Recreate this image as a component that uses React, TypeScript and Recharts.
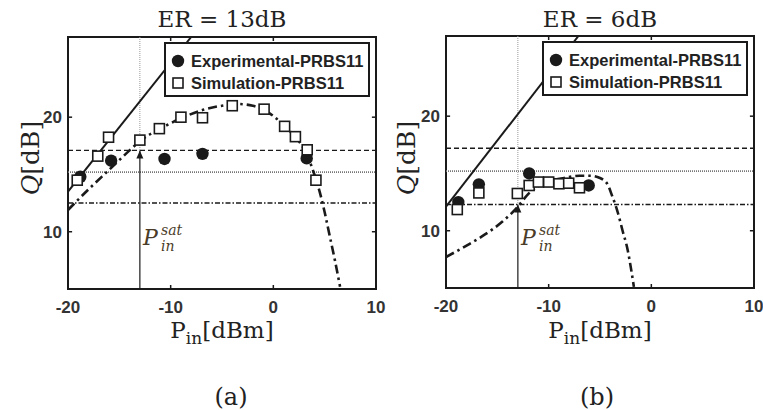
import { ComposedChart, Legend, Line, ReferenceArea, ReferenceDot, ReferenceLine, Scatter, XAxis, YAxis } from "recharts";

// axes
const xTicks = [-20, -10, 0, 10];
const yTicks = [10, 20];
const xDomain = [-20, 10];
const yDomain = [5, 27];
const pSat = -13;

// (a) ER = 13dB
const simXA = [-19.1, -17.1, -16.05, -13.0, -11.1, -9.0, -6.9, -4.0, -0.9, 1.1, 2.15, 3.3, 4.15];
const simQA = [14.5, 16.6, 18.25, 18.0, 19.0, 20.0, 19.95, 21.0, 20.7, 19.2, 18.3, 17.15, 14.5];
const expXA = [-18.8, -15.8, -10.6, -6.9, 3.25];
const expQA = [14.8, 16.2, 16.35, 16.8, 16.4];
const fitXA = [-20, -18, -16, -14, -13, -11, -9, -7, -5, -3.5, -2, -1, 0, 1, 2, 3, 4, 4.6, 5, 5.5, 6, 6.5];
const fitQA = [11.9, 13.7, 15.4, 17.1, 17.9, 19.0, 19.9, 20.6, 21.0, 21.15, 21.0, 20.65, 20.1, 19.3, 18.4, 17.2, 15.0, 13.2, 11.7, 9.6, 7.5, 5.2];
const slopeXA = [-20, -8];
const slopeQA = [13.5, 27];
const levelsA = [17.1, 15.2, 12.5];

// (b) ER = 6dB
const simXB = [-18.9, -16.8, -13.05, -11.9, -11.0, -10.0, -9.0, -8.05, -7.0];
const simQB = [11.85, 13.3, 13.25, 13.95, 14.25, 14.25, 14.1, 14.15, 13.75];
const expXB = [-18.8, -16.8, -11.9, -6.1];
const expQB = [12.5, 14.05, 15.0, 13.95];
const fitXB = [-20, -18, -16.5, -14.5, -13, -12, -11, -10, -8.5, -7, -6, -5, -4.3, -3.8, -3.3, -2.8, -2.3, -2.0, -1.7];
const fitQB = [7.7, 8.7, 9.5, 10.8, 12.1, 13.2, 13.9, 14.3, 14.6, 14.8, 14.8, 14.6, 14.1, 13.0, 11.7, 10.0, 8.3, 6.8, 5.1];
const slopeXB = [-20, -7.1];
const slopeQB = [12.1, 27];
const levelsB = [17.2, 15.2, 12.3];

const zip = (xs: number[], qs: number[]) => xs.map((x, i) => ({ x, q: qs[i] }));

const ink = "#1a1a1a";
const tickFont = { fill: "#333", fontSize: 17, fontWeight: "bold", fontFamily: "'Liberation Sans', Arial, sans-serif" };

const Dot = (p: any) => <circle cx={p.cx} cy={p.cy} r={6.2} fill={ink} />;
const Box = (p: any) => (
	<rect x={p.cx - 5} y={p.cy - 5} width={10} height={10} fill="#fff" stroke={ink} strokeWidth={1.6} />
);
const Arrow = (p: any) => (
	<polygon points={`${p.cx},${p.cy} ${p.cx - 3.5},${p.cy + 8} ${p.cx + 3.5},${p.cy + 8}`} fill={ink} />
);

const LegendBox = () => (
	<div
		style={{
			width: 206,
			height: 55,
			boxSizing: "border-box",
			border: `2px solid ${ink}`,
			background: "#fff",
			font: "bold 16.5px 'Liberation Sans', Arial, sans-serif",
			color: "#222",
			paddingLeft: 4,
			whiteSpace: "nowrap",
			overflow: "hidden",
		}}
	>
		<div style={{ display: "flex", alignItems: "center", height: 22, marginTop: 6 }}>
			<svg width={16} height={16}>
				<circle cx={8} cy={8} r={6.2} fill={ink} />
			</svg>
			<span style={{ marginLeft: 5 }}>Experimental-PRBS11</span>
		</div>
		<div style={{ display: "flex", alignItems: "center", height: 22 }}>
			<svg width={16} height={16}>
				<rect x={3} y={3} width={10} height={10} fill="#fff" stroke={ink} strokeWidth={1.6} />
			</svg>
			<span style={{ marginLeft: 5 }}>Simulation-PRBS11</span>
		</div>
	</div>
);

function Panel({ left, top, width, marginRight, sim, exp, fit, slope, levels }: PanelProps) {
	const [dashed, dotted, dashDot] = levels;
	const arrowQ = left === 0 ? dashed : dashDot;
	const [x0, x1] = xDomain;
	const [y0, y1] = yDomain;
	return (
		<div style={{ position: "absolute", left, top: 0 }}>
			<ComposedChart width={width} height={410} margin={{ top, right: marginRight, bottom: 92 - (top - 36), left: 8 }}>
				<XAxis
					type="number"
					dataKey="x"
					domain={xDomain}
					ticks={xTicks}
					interval={0}
					allowDataOverflow
					height={30}
					tickSize={0}
					tickMargin={12}
					axisLine={false}
					tickLine={false}
					tick={tickFont}
				/>
				<YAxis
					type="number"
					domain={yDomain}
					ticks={yTicks}
					interval={0}
					allowDataOverflow
					width={60}
					tickSize={0}
					tickMargin={6}
					axisLine={false}
					tickLine={false}
					tick={tickFont}
				/>
				<ReferenceLine y={dashed} stroke={ink} strokeWidth={1.3} strokeDasharray="5 3" />
				<ReferenceLine y={dotted} stroke="#777" strokeWidth={1.6} strokeDasharray="1 1" />
				<ReferenceLine y={dashDot} stroke={ink} strokeWidth={1.5} strokeDasharray="5 2 1.5 2" />
				<ReferenceLine segment={[{ x: pSat, y: y1 }, { x: pSat, y: arrowQ }]} stroke="#999" strokeWidth={1} strokeDasharray="1 1" />
				<ReferenceLine segment={[{ x: pSat, y: arrowQ }, { x: pSat, y: y0 }]} stroke={ink} strokeWidth={1.2} />
				<ReferenceDot x={pSat} y={arrowQ} r={4} shape={Arrow} />
				<Line data={slope} dataKey="q" type="linear" stroke={ink} strokeWidth={2} dot={false} isAnimationActive={false} />
				<Line data={fit} dataKey="q" type="monotone" stroke={ink} strokeWidth={2.6} strokeDasharray="9 4 2.5 4" dot={false} isAnimationActive={false} />
				<Scatter data={exp} dataKey="q" shape={Dot} isAnimationActive={false} />
				<Scatter data={sim} dataKey="q" shape={Box} isAnimationActive={false} />
				{/* frame with inward ticks on all four sides */}
				<ReferenceArea x1={x0} x2={x1} y1={y0} y2={y1} fill="none" fillOpacity={0} stroke={ink} strokeWidth={2} ifOverflow="visible" />
				{xTicks.map((t) => (
					<ReferenceLine key={`b${t}`} segment={[{ x: t, y: y0 }, { x: t, y: y0 + 0.35 }]} stroke={ink} strokeWidth={1.5} />
				))}
				{xTicks.map((t) => (
					<ReferenceLine key={`t${t}`} segment={[{ x: t, y: y1 }, { x: t, y: y1 - 0.35 }]} stroke={ink} strokeWidth={1.5} />
				))}
				{yTicks.map((t) => (
					<ReferenceLine key={`l${t}`} segment={[{ x: x0, y: t }, { x: x0 + 0.4, y: t }]} stroke={ink} strokeWidth={1.5} />
				))}
				{yTicks.map((t) => (
					<ReferenceLine key={`r${t}`} segment={[{ x: x1, y: t }, { x: x1 - 0.4, y: t }]} stroke={ink} strokeWidth={1.5} />
				))}
				<Legend
					layout="horizontal"
					verticalAlign="middle"
					align="center"
					content={LegendBox}
					wrapperStyle={{ left: 164, top: top + 5, width: 206 }}
				/>
			</ComposedChart>
		</div>
	);
}

interface PanelProps {
	left: number;
	top: number;
	width: number;
	marginRight: number;
	sim: { x: number; q: number }[];
	exp: { x: number; q: number }[];
	fit: { x: number; q: number }[];
	slope: { x: number; q: number }[];
	levels: number[];
}

const serif = "'DejaVu Serif', serif";

function Texts({ cx, axisX, lineX, title, tag, tagX }: TextProps) {
	return (
		<g fill="#222" fontFamily={serif}>
			<text x={cx} y={27} fontSize={23} textAnchor="middle">
				{title}
			</text>
			<text transform={`translate(${axisX},158) rotate(-90)`} fontSize={25} textAnchor="middle">
				<tspan fontStyle="italic">Q</tspan>[dB]
			</text>
			<text x={cx} y={338} fontSize={23} textAnchor="middle">
				P<tspan fontSize={17} dy={6}>in</tspan>
				<tspan dy={-6}>[dBm]</tspan>
			</text>
			<text x={tagX} y={405} fontSize={24} textAnchor="middle">
				{tag}
			</text>
			<g fill="#4a3c28" fontStyle="italic">
				<text x={lineX + 4} y={245} fontSize={22}>
					P
				</text>
				<text x={lineX + 22} y={235} fontSize={14}>
					sat
				</text>
				<text x={lineX + 22} y={251} fontSize={14}>
					in
				</text>
			</g>
		</g>
	);
}

interface TextProps {
	cx: number;
	axisX: number;
	lineX: number;
	title: string;
	tag: string;
	tagX: number;
}

export default function App() {
	return (
		<div style={{ position: "absolute", left: 0, top: 0, width: 763, height: 410, background: "#fff", overflow: "hidden" }}>
			<Panel
				left={0}
				top={37}
				width={400}
				marginRight={24}
				sim={zip(simXA, simQA)}
				exp={zip(expXA, expQA)}
				fit={zip(fitXA, fitQA)}
				slope={zip(slopeXA, slopeQA)}
				levels={levelsA}
			/>
			<Panel
				left={378}
				top={36}
				width={385}
				marginRight={9}
				sim={zip(simXB, simQB)}
				exp={zip(expXB, expQB)}
				fit={zip(fitXB, fitQB)}
				slope={zip(slopeXB, slopeQB)}
				levels={levelsB}
			/>
			<svg width={763} height={410} style={{ position: "absolute", left: 0, top: 0, pointerEvents: "none" }}>
				<Texts cx={222} axisX={39} lineX={139} title="ER = 13dB" tag="(a)" tagX={231} />
				<Texts cx={600} axisX={415} lineX={517} title="ER = 6dB" tag="(b)" tagX={597} />
			</svg>
		</div>
	);
}
